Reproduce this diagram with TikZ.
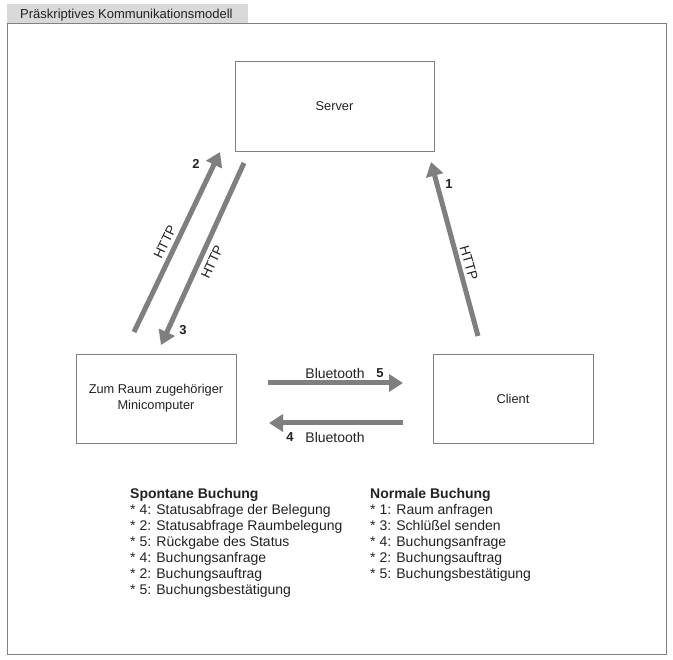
\documentclass[tikz,border=0pt]{standalone}
\usepackage{fontspec}
\setmainfont{Liberation Sans}
\usetikzlibrary{arrows.meta}
\definecolor{framegray}{HTML}{808080}
\definecolor{tabgray}{HTML}{D9D9D9}
\definecolor{arrowgray}{HTML}{7F7F7F}
\definecolor{txt}{HTML}{222222}
\begin{document}
\begin{tikzpicture}[x=1pt,y=-1pt,
  box/.style={draw=framegray,line width=0.8pt,fill=white,minimum width=199pt,minimum height=90pt,inner sep=0pt,font=\fontsize{12.8}{16}\selectfont,text=txt,align=center},
  flow/.style={draw=arrowgray,line width=5pt,-{Triangle[length=14pt,width=17pt]}},
  lbl/.style={font=\fontsize{13.5}{15}\selectfont,text=txt,inner sep=0pt},
  num/.style={font=\bfseries\fontsize{13}{15}\selectfont,text=txt,inner sep=0pt},
  legend/.style={font=\fontsize{14}{16}\selectfont,text=txt,align=left,anchor=north west,inner sep=0pt}]
\useasboundingbox (0,0) rectangle (673,660);
\fill[white] (0,0) rectangle (673,660);
% title tab and frame
\fill[tabgray] (7,4) rectangle (248,24);
\node[lbl,anchor=west,font=\fontsize{13}{15}\selectfont] (title) at (20,15) {Präskriptives Kommunikationsmodell};
\draw[framegray,line width=1pt] (7,24) rectangle (666,654);
% boxes
\node[box] (server) at (334.5,106) {\raisebox{-1.5pt}{Server}};
\node[box,minimum width=160pt,minimum height=89pt] (mini) at (156,398.5) {\raisebox{-2pt}{\begin{tabular}{@{}c@{}}Zum Raum zugehöriger\\Minicomputer\end{tabular}}};
\node[box,minimum width=160pt,minimum height=89pt] (client) at (513,398.5) {\raisebox{-1.5pt}{Client}};
% arrow end points
\coordinate (a2s) at (134,332);
\coordinate (a2e) at (220,152);
\coordinate (a3s) at (244,163);
\coordinate (a3e) at (161,345);
\coordinate (a1s) at (478,336);
\coordinate (a1e) at (431,162);
\coordinate (a5s) at (268,383);
\coordinate (a5e) at (403,383);
\coordinate (a4s) at (403,423);
\coordinate (a4e) at (269,423);
\draw[flow] (a2s) -- (a2e);
\draw[flow] (a3s) -- (a3e);
\draw[flow] (a1s) -- (a1e);
\draw[flow] (a5s) -- (a5e);
\draw[flow] (a4s) -- (a4e);
% arrow labels
\node[lbl,rotate=64] (h2) at (165,242) {HTTP};
\node[lbl,rotate=65] (h3) at (212,262) {HTTP};
\node[lbl,rotate=-74] (h1) at (469,263) {HTTP};
\node[num] (n2) at (196,164) {2};
\node[num] (n3) at (183,330) {3};
\node[num] (n1) at (449,184) {1};
\node[lbl,font=\fontsize{14}{16}\selectfont] (b5) at (335,373) {Bluetooth};
\node[num] (n5) at (380,373) {5};
\node[num] (n4) at (290,437) {4};
\node[lbl,font=\fontsize{14}{16}\selectfont] (b4) at (335,437) {Bluetooth};
% legend
\node[legend] (spontan) at (130,488) {\textbf{Spontane Buchung}\\
* 4: Statusabfrage der Belegung\\
* 2: Statusabfrage Raumbelegung\\
* 5: Rückgabe des Status\\
* 4: Buchungsanfrage\\
* 2: Buchungsauftrag\\
* 5: Buchungsbestätigung};
\node[legend] (normal) at (370,488) {\textbf{Normale Buchung}\\
* 1: Raum anfragen\\
* 3: Schlüßel senden\\
* 4: Buchungsanfrage\\
* 2: Buchungsauftrag\\
* 5: Buchungsbestätigung};
\end{tikzpicture}
\end{document}
